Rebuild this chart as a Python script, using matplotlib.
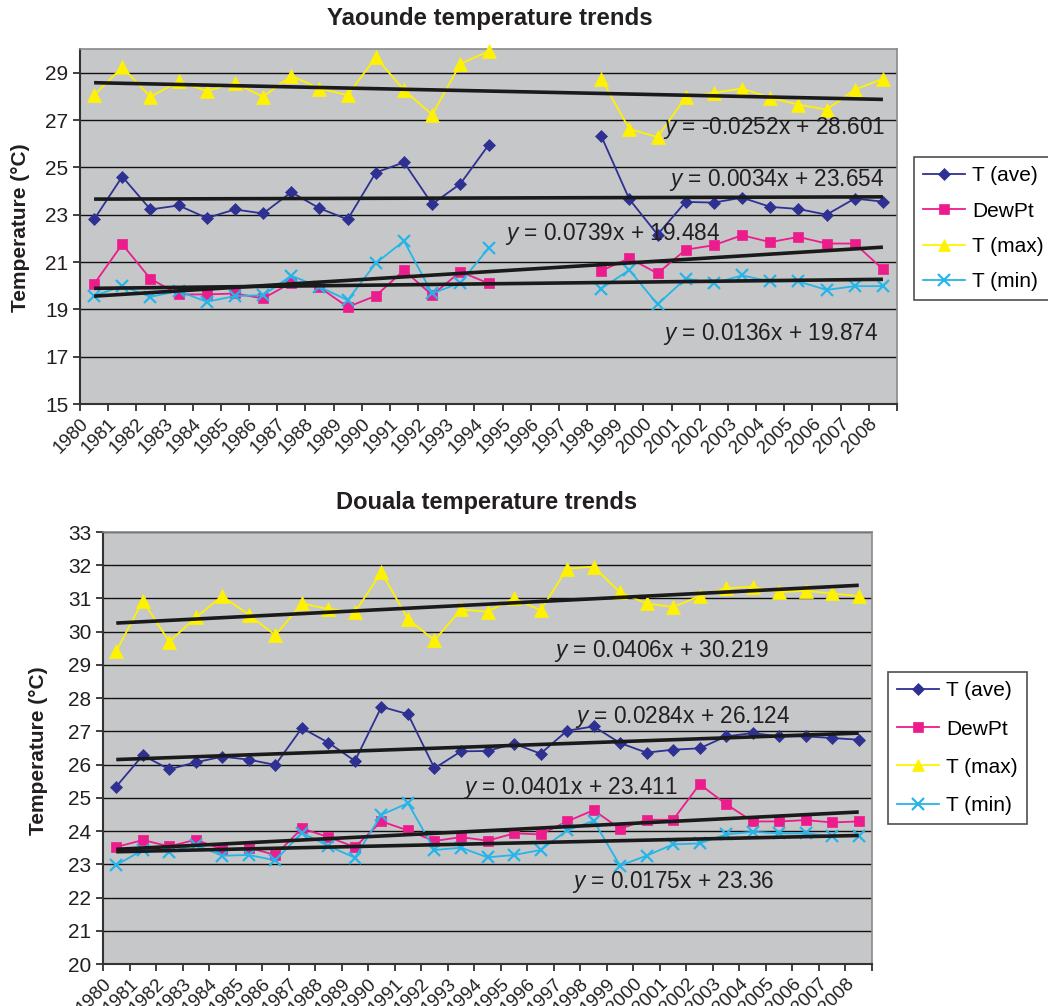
import numpy as np
import matplotlib
matplotlib.use("Agg")
import matplotlib.pyplot as plt
from matplotlib.lines import Line2D

plt.rcParams['font.family'] = ['Liberation Sans', 'DejaVu Sans']
plt.rcParams['mathtext.fontset'] = 'custom'
plt.rcParams['mathtext.it'] = 'Liberation Sans:italic'
plt.rcParams['mathtext.rm'] = 'Liberation Sans'

years = list(range(1980, 2009))
NA = np.nan

# Yaounde (1995-1997 missing)
y_tave = [22.80, 24.61, 23.22, 23.39, 22.86, 23.22, 23.05, 23.95, 23.27, 22.80, 24.78, 25.21, 23.45, 24.30, 25.94,
          NA, NA, NA,
          26.33, 23.65, 22.16, 23.54, 23.51, 23.72, 23.33, 23.24, 23.00, 23.68, 23.55]
y_dew = [20.07, 21.75, 20.29, 19.63, 19.63, 19.67, 19.46, 20.12, 19.93, 19.10, 19.57, 20.65, 19.60, 20.59, 20.10,
         NA, NA, NA,
         20.63, 21.16, 20.52, 21.52, 21.71, 22.13, 21.84, 22.06, 21.78, 21.78, 20.69]
y_tmax = [28.05, 29.23, 27.98, 28.63, 28.22, 28.56, 27.98, 28.87, 28.33, 28.05, 29.65, 28.26, 27.22, 29.37, 29.90,
          NA, NA, NA,
          28.74, 26.62, 26.28, 27.96, 28.15, 28.33, 27.94, 27.65, 27.44, 28.28, 28.74]
y_tmin = [19.57, 19.98, 19.53, 19.77, 19.32, 19.56, 19.60, 20.42, 19.95, 19.39, 20.95, 21.89, 19.67, 20.12, 21.58,
          NA, NA, NA,
          19.88, 20.66, 19.21, 20.30, 20.11, 20.43, 20.18, 20.18, 19.82, 19.98, 19.98]
y_trend = {'T (ave)': (0.0034, 23.654), 'DewPt': (0.0739, 19.484),
           'T (max)': (-0.0252, 28.601), 'T (min)': (0.0136, 19.874)}

# Douala
d_tave = [25.34, 26.28, 25.86, 26.07, 26.24, 26.15, 25.99, 27.10, 26.66, 26.11, 27.74, 27.52, 25.89, 26.40, 26.41,
          26.63, 26.33, 27.02, 27.15, 26.65, 26.36, 26.45, 26.49, 26.85, 26.95, 26.85, 26.85, 26.80, 26.75]
d_dew = [23.52, 23.73, 23.54, 23.74, 23.45, 23.50, 23.28, 24.08, 23.82, 23.52, 24.29, 24.02, 23.70, 23.82, 23.71,
         23.93, 23.90, 24.29, 24.63, 24.07, 24.34, 24.34, 25.41, 24.81, 24.29, 24.29, 24.33, 24.26, 24.29]
d_tmax = [29.41, 30.93, 29.70, 30.43, 31.07, 30.51, 29.89, 30.85, 30.68, 30.59, 31.79, 30.38, 29.74, 30.67, 30.60,
          31.01, 30.64, 31.89, 31.96, 31.18, 30.85, 30.74, 31.07, 31.31, 31.35, 31.19, 31.23, 31.15, 31.07]
d_tmin = [22.98, 23.43, 23.38, 23.58, 23.26, 23.28, 23.12, 23.95, 23.55, 23.20, 24.49, 24.84, 23.43, 23.50, 23.21,
          23.28, 23.43, 24.02, 24.31, 22.96, 23.26, 23.60, 23.63, 23.90, 23.98, 23.93, 23.93, 23.85, 23.85]
d_trend = {'T (ave)': (0.0284, 26.124), 'DewPt': (0.0401, 23.411),
           'T (max)': (0.0406, 30.219), 'T (min)': (0.0175, 23.36)}

series_names = ['T (ave)', 'DewPt', 'T (max)', 'T (min)']
colors = {'T (ave)': '#2e3192', 'DewPt': '#ec1c8c', 'T (max)': '#fff200', 'T (min)': '#25b5e8'}
markers = {'T (ave)': ('D', 6.5), 'DewPt': ('s', 7.5), 'T (max)': ('^', 9.5), 'T (min)': ('x', 9)}

W, H = 1048, 1006
fig = plt.figure(figsize=(W / 100, H / 100), dpi=100)

def px_axes(l, r, t, b):
    return fig.add_axes([l / W, 1 - b / H, (r - l) / W, (b - t) / H])

def draw(ax, data, trends, ylim, yticks, eqs):
    n = len(years)
    xs = np.arange(n) + 0.5
    ax.set_facecolor('#c6c7c9')
    for yt in yticks:
        ax.axhline(yt, color='#111111', lw=1.0, zorder=1)
    for name in series_names:
        vals = np.array(data[name], dtype=float)
        m, ms = markers[name]
        ax.plot(xs, vals, color=colors[name], lw=1.3, marker=m, ms=ms,
                mew=1.6 if m == 'x' else 0.5, mec=colors[name], zorder=3, clip_on=False)
    for name in series_names:
        a, b = trends[name]
        xi = np.array([1, n])
        ax.plot(xi - 0.5, a * xi + b, color='#1a1a1a', lw=2.6, zorder=4, solid_capstyle='butt')
    for (xx, yy, txt, ha) in eqs:
        ax.text(xx, yy, txt, ha=ha, va='center', fontsize=16.3, color='#231f20', zorder=5)
    ax.set_xlim(0, n)
    ax.set_ylim(*ylim)
    ax.set_xticks(np.arange(n + 1))
    ax.set_xticklabels([str(y) for y in years] + [''], rotation=45, ha='right', va='top',
                       rotation_mode='anchor', fontsize=13.5, color='#231f20')
    ax.set_yticks(yticks if ylim[0] in yticks else [ylim[0]] + list(yticks))
    ax.tick_params(axis='y', labelsize=15, colors='#231f20', direction='out', length=5, width=1.2)
    ax.tick_params(axis='x', direction='out', length=5, width=1.2, colors='#231f20', pad=3)
    for s in ['left', 'bottom']:
        ax.spines[s].set_color('#333333')
        ax.spines[s].set_linewidth(1.5)
    for s in ['top', 'right']:
        ax.spines[s].set_color('#8a8a8a')
        ax.spines[s].set_linewidth(1.2)

def legend(x, y, spacing):
    handles = []
    for name in series_names:
        m, ms = markers[name]
        handles.append(Line2D([], [], color=colors[name], lw=1.3, marker=m, ms=ms * 0.9,
                              mew=1.6 if m == 'x' else 0.5, mec=colors[name]))
    leg = fig.legend(handles, series_names, loc='upper left', bbox_to_anchor=(x / W, 1 - y / H),
                     fontsize=15, frameon=True, fancybox=False, edgecolor='#222222',
                     handlelength=2.0, handletextpad=0.35, labelspacing=spacing,
                     borderpad=0.45, borderaxespad=0)
    leg.get_frame().set_linewidth(1.2)

# Yaounde
ax1 = px_axes(80, 897, 49, 404)
draw(ax1, {'T (ave)': y_tave, 'DewPt': y_dew, 'T (max)': y_tmax, 'T (min)': y_tmin}, y_trend,
     (15, 30), [15, 17, 19, 21, 23, 25, 27, 29],
     [(28.6, 26.67, r'$\mathit{y}$ = -0.0252x + 28.601', 'right'),
      (28.55, 24.46, r'$\mathit{y}$ = 0.0034x + 23.654', 'right'),
      (15.1, 22.2, r'$\mathit{y}$ = 0.0739x + 19.484', 'left'),
      (28.33, 17.97, r'$\mathit{y}$ = 0.0136x + 19.874', 'right')])
fig.text(490 / W, 1 - 19 / H, 'Yaounde temperature trends', ha='center', va='center',
         fontsize=17.3, fontweight='bold', color='#231f20')
fig.text(21 / W, 1 - 228 / H, 'Temperature (°C)', ha='center', va='center', rotation=90,
         fontsize=15, fontweight='bold', color='#231f20')
legend(914, 157, 0.78)

# Douala
ax2 = px_axes(103, 872, 532, 964)
draw(ax2, {'T (ave)': d_tave, 'DewPt': d_dew, 'T (max)': d_tmax, 'T (min)': d_tmin}, d_trend,
     (20, 33), list(range(20, 34)),
     [(17.0, 29.42, r'$\mathit{y}$ = 0.0406x + 30.219', 'left'),
      (17.8, 27.43, r'$\mathit{y}$ = 0.0284x + 26.124', 'left'),
      (13.57, 25.29, r'$\mathit{y}$ = 0.0401x + 23.411', 'left'),
      (17.7, 22.46, r'$\mathit{y}$ = 0.0175x + 23.36', 'left')])
fig.text(487 / W, 1 - 503 / H, 'Douala temperature trends', ha='center', va='center',
         fontsize=17, fontweight='bold', color='#231f20')
fig.text(39 / W, 1 - 751 / H, 'Temperature (°C)', ha='center', va='center', rotation=90,
         fontsize=15, fontweight='bold', color='#231f20')
legend(888, 672, 0.92)

fig.savefig('out.png', dpi=100, facecolor='white')
